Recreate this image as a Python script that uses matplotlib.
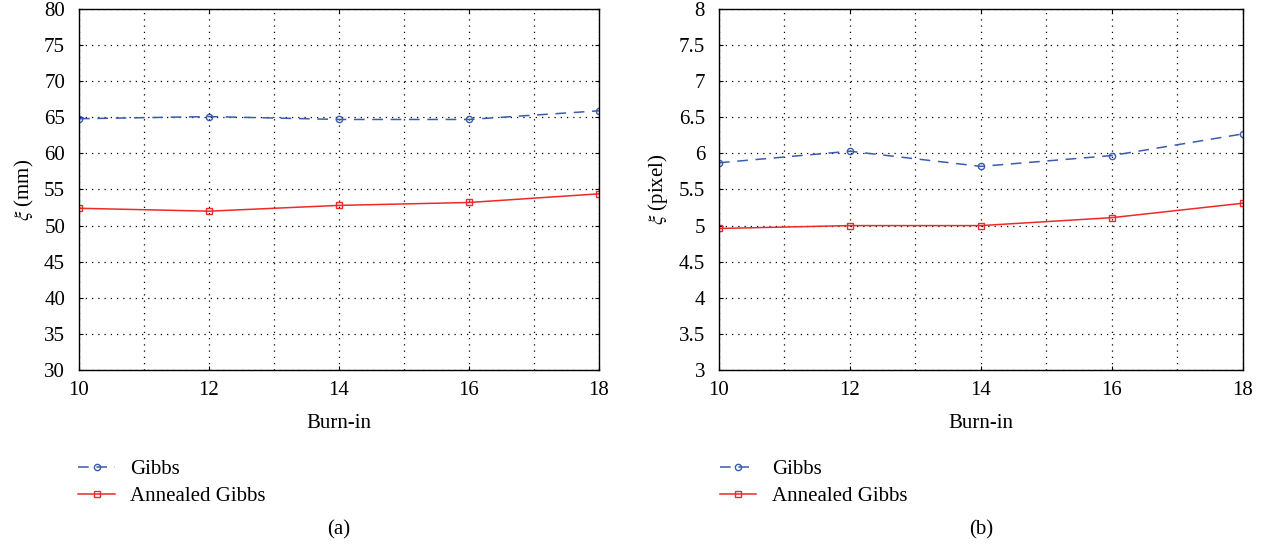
import numpy as np
import matplotlib.pyplot as plt
from matplotlib.ticker import MultipleLocator

# datos
burn_in = [10, 12, 14, 16, 18]
gibbs_mm = [64.8, 65.1, 64.7, 64.7, 65.9]
annealed_mm = [52.4, 52.0, 52.8, 53.2, 54.4]
gibbs_px = [5.87, 6.03, 5.82, 5.97, 6.27]
annealed_px = [4.96, 5.00, 5.00, 5.11, 5.31]
px_labels = ['3', '3.5', '4', '4.5', '5', '5.5', '6', '6.5', '7', '7.5', '8']

plt.rcParams['font.family'] = ['Liberation Serif', 'DejaVu Serif']
plt.rcParams['mathtext.fontset'] = 'stix'

blue = '#3b5cad'
red = '#ee2a2a'

fig = plt.figure(figsize=(12.68, 5.48), dpi=100)
ax1 = fig.add_axes([0.0623, 0.3248, 0.4101, 0.6588])
ax2 = fig.add_axes([0.567, 0.3248, 0.4132, 0.6588])


def dibujar(ax, g, a, ylim, ystep, ylabel, caption, legx):
    lg, = ax.plot(burn_in, g, color=blue, ls='--', lw=1.1, marker='o',
                  ms=4.5, mfc='none', mew=1.0, dashes=(7, 5))
    la, = ax.plot(burn_in, a, color=red, ls='-', lw=1.1, marker='s',
                  ms=4.5, mfc='none', mew=1.0)
    ax.set_xlim(10, 18)
    ax.set_ylim(*ylim)
    ax.xaxis.set_major_locator(MultipleLocator(2))
    ax.xaxis.set_minor_locator(MultipleLocator(1))
    ax.yaxis.set_major_locator(MultipleLocator(ystep))
    ax.grid(which='both', axis='x', color='black', ls=(0, (1, 4)), lw=0.9)
    ax.grid(which='major', axis='y', color='black', ls=(0, (1, 4)), lw=0.9)
    ax.tick_params(which='both', direction='in', top=True, right=True,
                   labelsize=15, length=3)
    ax.tick_params(axis='x', pad=8)
    ax.tick_params(axis='y', pad=10)
    ax.tick_params(which='minor', length=0)
    ax.set_xlabel('Burn-in', fontsize=15, labelpad=10)
    ax.set_ylabel(ylabel, fontsize=15, labelpad=6)
    for s in ax.spines.values():
        s.set_linewidth(1.0)
    fig.legend([lg, la], ['Gibbs', 'Annealed Gibbs'], loc='upper left',
               bbox_to_anchor=(legx, 0.195), frameon=False, fontsize=15,
               handlelength=1.75, labelspacing=0.35, handletextpad=0.75)
    pos = ax.get_position()
    fig.text(pos.x0 + pos.width / 2, 0.033, caption, ha='center',
             va='center', fontsize=15)


dibujar(ax1, gibbs_mm, annealed_mm, (30, 80), 5,
        r'$\mathit{\xi}$ (mm)', '(a)', 0.047)
dibujar(ax2, gibbs_px, annealed_px, (3, 8), 0.5,
        r'$\mathit{\xi}$ (pixel)', '(b)', 0.553)
ax2.set_yticks(np.arange(3, 8.01, 0.5))
ax2.set_yticklabels(px_labels)

fig.savefig('out.png', dpi=100)
